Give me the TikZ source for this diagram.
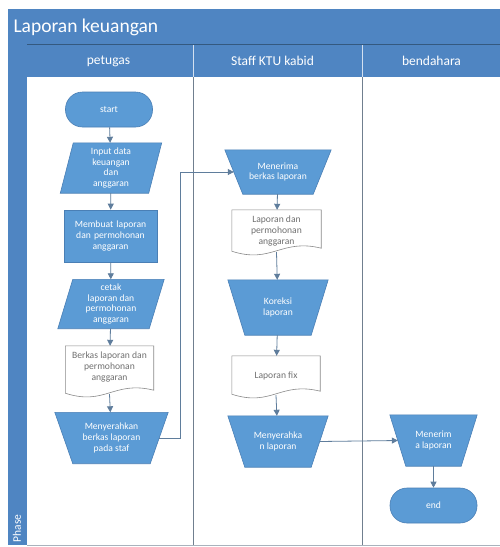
\documentclass[tikz,border=0pt]{standalone}
\usepackage{fontspec}
\setmainfont{Carlito}
\usetikzlibrary{arrows.meta}
\definecolor{bar}{HTML}{4F85C2}
\definecolor{shp}{HTML}{5B9BD5}
\definecolor{shpd}{HTML}{4A7FB5}
\definecolor{lane}{HTML}{707F8F}
\definecolor{arr}{HTML}{5F7D9C}
\definecolor{doct}{HTML}{707070}
\definecolor{docd}{HTML}{8A8A8A}
\newcommand\drawdoc[2]{%
  \draw[docline] (#1.north west) -- (#1.north east) -- ([shift={(0pt,8pt)}]#1.south east)
   .. controls ([shift={(-#2pt,18pt)}]#1.south east) and ([shift={(#2pt,-8pt)}]#1.south west)
   .. ([shift={(0pt,5pt)}]#1.south west) -- cycle;}
\newcommand\drawmanual[2]{%
  \filldraw[shapeline] (#1.north west) -- (#1.north east) -- ([xshift=-#2pt]#1.south east)
   -- ([xshift=#2pt]#1.south west) -- cycle;}
\newcommand\drawpara[2]{%
  \filldraw[shapeline] ([xshift=#2pt]#1.north west) -- (#1.north east) -- ([xshift=-#2pt]#1.south east)
   -- (#1.south west) -- cycle;}
\begin{document}
\begin{tikzpicture}[x=1pt,y=-1pt,
  txt/.style={font=\fontsize{9.6}{10.8}\selectfont, align=center},
  shapeline/.style={fill=shp, draw=shpd, line width=0.6pt},
  blue/.style={txt, shapeline, text=white},
  wtxt/.style={txt, text=white},
  term/.style={blue, rectangle, rounded corners=17pt, minimum width=87pt, minimum height=35pt},
  procbox/.style={blue, rectangle, minimum width=89pt, minimum height=52pt, text width=86pt},
  frame/.style={rectangle, inner sep=0pt},
  docbox/.style={rectangle, inner sep=0pt, minimum width=88pt, minimum height=52pt},
  doctxt/.style={txt, text=doct},
  docline/.style={draw=docd, fill=white, line width=0.6pt},
  flow/.style={draw=arr, line width=0.8pt, -{Triangle[length=6pt,width=6pt]}},
  lanehead/.style={text=white, font=\fontsize{13.5}{15}\selectfont},
  laneline/.style={draw=lane, line width=1pt}
]
\useasboundingbox (0,0) rectangle (500,547);
\fill[white] (0,0) rectangle (500,547);
% pool frame
\fill[bar] (8,9) rectangle (500,44);
\fill[bar] (8,44) rectangle (27,545);
\fill[bar] (27,45) rectangle (500,77);
\draw[shpd!70!black, line width=0.4pt] (27,44) -- (500,44);
\draw[white!75!bar, line width=0.5pt] (193,45) -- (193,77) (362,45) -- (362,77);
\node[anchor=west, text=white, font=\fontsize{19.5}{22}\selectfont] (title) at (10,27) {Laporan keuangan};
\node[lanehead] (h1) at (108.5,61) {petugas};
\node[lanehead] (h2) at (272.5,61) {Staff KTU kabid};
\node[lanehead] (h3) at (431.5,61) {bendahara};
\node[rotate=90, anchor=west, text=white, font=\fontsize{11.5}{13}\selectfont] (phase) at (17,546) {Phase};
\draw[laneline] (193,77) -- (193,545);
\draw[laneline] (362,77) -- (362,545);
\draw[lane!60, line width=0.6pt] (27,545) -- (500,545);

% petugas
\node[term] (start) at (109,109.5) {start};
\node[frame, minimum width=101pt, minimum height=50pt] (in1) at (111,168) {};
\drawpara{in1}{13}
\node[wtxt] (in1t) at (in1) {Input data\\keuangan\\dan\\anggaran};
\node[procbox] (mk) at (110.5,236) {Membuat laporan\\dan permohonan\\anggaran};
\node[frame, minimum width=106pt, minimum height=49pt] (ct) at (111,304) {};
\drawpara{ct}{15}
\node[wtxt] (ctt) at (ct) {cetak\\laporan dan\\permohonan\\anggaran};
\node[docbox] (d1) at (109.5,372) {};
\drawdoc{d1}{40}
\node[doctxt] (d1t) at ([yshift=5pt]d1.center) {Berkas laporan dan\\permohonan\\anggaran};
\node[frame, minimum width=113pt, minimum height=51pt] (ser) at (111.5,438) {};
\drawmanual{ser}{18}
\node[wtxt] (sert) at (ser) {Menyerahkan\\berkas laporan\\pada staf};

% staff
\node[frame, minimum width=106pt, minimum height=44pt] (men) at (278,172) {};
\drawmanual{men}{18}
\node[wtxt] (ment) at (men) {Menerima\\berkas laporan};
\node[docbox, minimum width=89pt, minimum height=46pt] (d2) at (276.5,233) {};
\drawdoc{d2}{40}
\node[doctxt] (d2t) at ([yshift=2pt]d2.center) {Laporan dan\\permohonan\\anggaran};
\node[frame, minimum width=100pt, minimum height=55pt] (kor) at (278,307.5) {};
\drawmanual{kor}{17}
\node[wtxt] (kort) at (kor) {Koreksi\\laporan};
\node[docbox, minimum width=88pt, minimum height=43pt] (d3) at (276,377.5) {};
\drawdoc{d3}{40}
\node[doctxt] (d3t) at ([yshift=2pt]d3.center) {Laporan fix};
\node[frame, minimum width=100pt, minimum height=51pt] (ser2) at (278,441.5) {};
\drawmanual{ser2}{17}
\node[wtxt] (ser2t) at (ser2) {Menyerahka\\n laporan};

% bendahara
\node[frame, minimum width=87pt, minimum height=51pt] (ter) at (433.5,440.5) {};
\drawmanual{ter}{16}
\node[wtxt] (tert) at (ter) {Menerim\\a laporan};
\node[term] (end) at (433.5,505.5) {end};

% flows
\draw[flow] (start) -- (in1);
\draw[flow] (in1) -- (mk);
\draw[flow] (mk) -- (ct);
\draw[flow] (ct) -- (d1);
\draw[flow] ([yshift=4pt]d1.south) -- (ser);
\coordinate (c1) at (180,172);
\draw[flow] ([xshift=-9pt]ser.east) -| (c1) -- ([xshift=9pt]men.west);
\draw[flow] (men) -- (d2);
\draw[flow] ([yshift=4pt]d2.south) -- (kor);
\draw[flow] (kor) -- (d3);
\draw[flow] ([yshift=4pt]d3.south) -- (ser2);
\draw[flow] ([xshift=-8.5pt]ser2.east) -- ([xshift=8pt]ter.west);
\draw[flow] (ter) -- (end);
\end{tikzpicture}
\end{document}
